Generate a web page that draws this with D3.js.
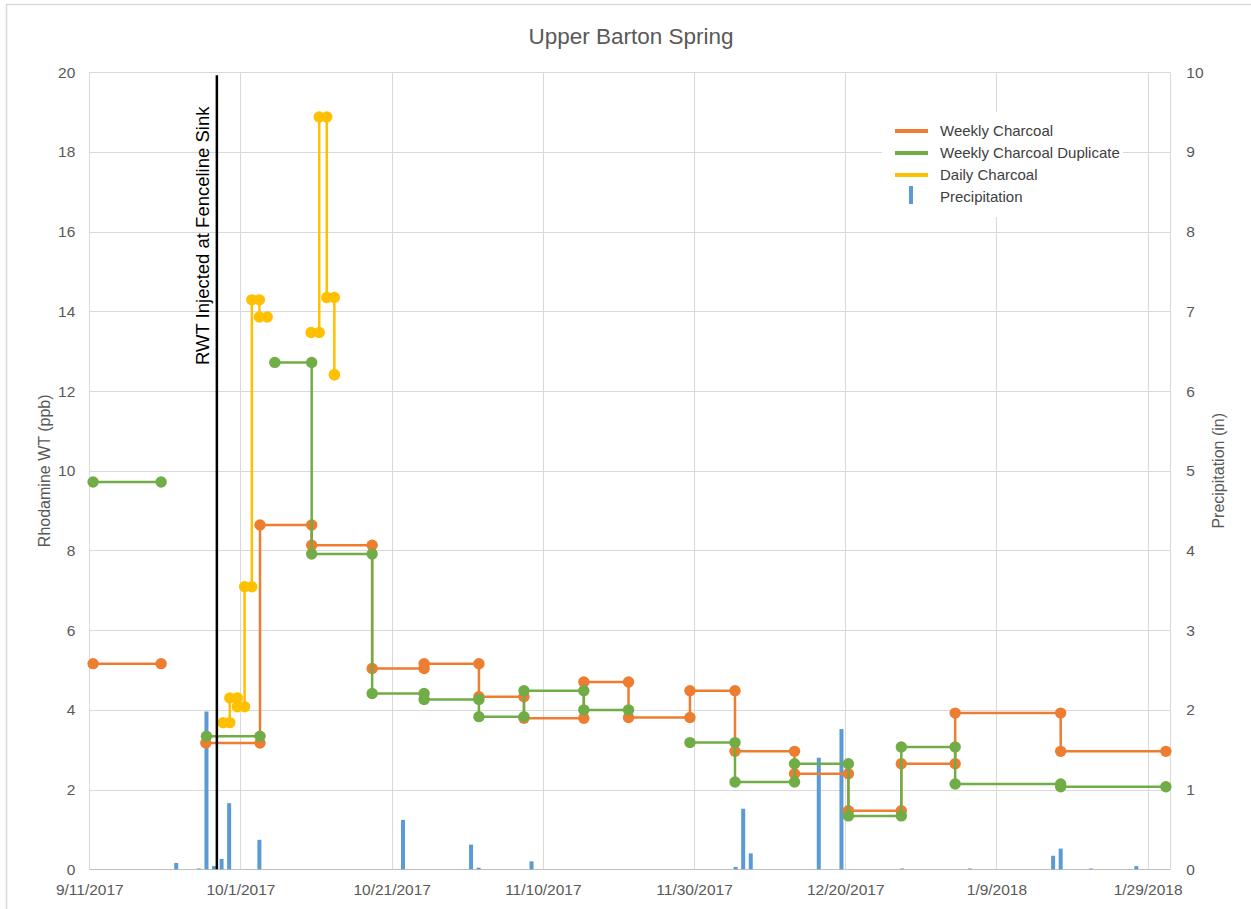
<!DOCTYPE html>
<html><head><meta charset="utf-8">
<script src="https://cdn.jsdelivr.net/npm/d3@7"></script>
<style>
body{margin:0;background:#fff}
svg{display:block}
text{font-family:"Liberation Sans",Arial,sans-serif}
</style>
</head><body>
<svg id="chart" width="1251" height="909"></svg>
<script>
// ---------------- DATA ----------------
const titleText = "Upper Barton Spring";
const leftTitle = "Rhodamine WT (ppb)";
const rightTitle = "Precipitation (in)";
const injectionLabel = "RWT Injected at Fenceline Sink";
const injectionDate = "2017-09-27 21:00";

const dateTickLabels = ["9/11/2017","10/1/2017","10/21/2017","11/10/2017","11/30/2017","12/20/2017","1/9/2018","1/29/2018"];
const leftTicks = [0,2,4,6,8,10,12,14,16,18,20];
const rightTicks = [0,1,2,3,4,5,6,7,8,9,10];
const xDomain = ["2017-09-11 00:00","2018-02-01 00:00"];

const weeklyStart = ["2017-09-11 12:00","2017-09-26 10:00","2017-10-03 14:00","2017-10-10 10:00","2017-10-18 10:00","2017-10-25 07:00","2017-11-01 13:00","2017-11-07 12:00","2017-11-15 10:00","2017-11-21 08:00","2017-11-29 11:00","2017-12-05 10:00","2017-12-13 07:00","2017-12-20 10:00","2017-12-27 10:00","2018-01-03 13:00","2018-01-17 12:00"];
const weeklyEnd   = ["2017-09-20 12:00","2017-10-03 14:00","2017-10-10 10:00","2017-10-18 10:00","2017-10-25 07:00","2017-11-01 13:00","2017-11-07 12:00","2017-11-15 10:00","2017-11-21 08:00","2017-11-29 11:00","2017-12-05 10:00","2017-12-13 07:00","2017-12-20 10:00","2017-12-27 10:00","2018-01-03 13:00","2018-01-17 12:00","2018-01-31 10:00"];
const weeklyValue = [5.16,3.17,8.64,8.13,5.04,5.16,4.33,3.79,4.70,3.81,4.48,2.96,2.40,1.47,2.65,3.92,2.96];

const dupStart = ["2017-09-11 12:00","2017-09-26 12:00","2017-10-05 13:00","2017-10-10 10:00","2017-10-18 10:00","2017-10-25 07:00","2017-11-01 13:00","2017-11-07 12:00","2017-11-15 10:00","2017-11-29 11:00","2017-12-05 10:00","2017-12-13 07:00","2017-12-20 10:00","2017-12-27 10:00","2018-01-03 13:00","2018-01-17 12:00"];
const dupEnd   = ["2017-09-20 12:00","2017-10-03 14:00","2017-10-10 10:00","2017-10-18 10:00","2017-10-25 07:00","2017-11-01 13:00","2017-11-07 12:00","2017-11-15 10:00","2017-11-21 08:00","2017-12-05 10:00","2017-12-13 07:00","2017-12-20 10:00","2017-12-27 10:00","2018-01-03 13:00","2018-01-17 12:00","2018-01-31 10:00"];
const dupValue = [9.72,3.34,12.72,7.91,4.41,4.26,3.83,4.48,4.00,3.18,2.19,2.65,1.34,3.07,2.14,2.07];

const dailyStart = ["2017-09-28 17:00","2017-09-29 14:00","2017-09-30 14:00","2017-10-01 13:00","2017-10-02 12:00","2017-10-03 12:00","2017-10-10 08:00","2017-10-11 10:00","2017-10-12 10:00","2017-10-13 10:00"];
const dailyEnd   = ["2017-09-29 14:00","2017-09-30 14:00","2017-10-01 13:00","2017-10-02 12:00","2017-10-03 12:00","2017-10-04 13:00","2017-10-11 10:00","2017-10-12 10:00","2017-10-13 10:00","2017-10-13 10:00"];
const dailyValue = [3.68,4.30,4.08,7.09,14.29,13.86,13.47,18.88,14.35,12.41];

const precipDates = ["2017-09-22 12:00","2017-09-25 12:00","2017-09-26 12:00","2017-09-27 12:00","2017-09-28 12:00","2017-09-29 12:00","2017-10-03 12:00","2017-10-22 12:00","2017-10-31 12:00","2017-11-01 12:00","2017-11-08 12:00","2017-12-05 12:00","2017-12-06 12:00","2017-12-07 12:00","2017-12-16 12:00","2017-12-19 12:00","2017-12-27 12:00","2018-01-05 12:00","2018-01-16 12:00","2018-01-17 12:00","2018-01-21 12:00","2018-01-27 12:00"];
const precipValues = [0.08,0.01,1.98,0.04,0.13,0.83,0.37,0.62,0.31,0.02,0.10,0.03,0.76,0.20,1.40,1.76,0.01,0.01,0.17,0.26,0.01,0.04];

const seriesNames = ["Weekly Charcoal","Weekly Charcoal Duplicate","Daily Charcoal","Precipitation"];
const seriesColors = ["#ED7D31","#70AD47","#FFC000","#5B9BD5"];

// ---------------- CHART ----------------
const parse = d3.timeParse("%Y-%m-%d %H:%M");
const tickParse = d3.timeParse("%m/%d/%Y");
const svg = d3.select("#chart");
const L = 89.3, R = 1170.3, T = 72.3, B = 869.3;

const x = d3.scaleTime().domain(xDomain.map(parse)).range([L, R]);
const yL = d3.scaleLinear().domain([0,20]).range([B, T]);
const yR = d3.scaleLinear().domain([0,10]).range([B, T]);

// outer chart border
svg.append("rect").attr("x",6.5).attr("y",4.5).attr("width",1260).attr("height",920)
  .attr("fill","none").attr("stroke","#d9d9d9").attr("stroke-width",1.5);

// gridlines
const grid = svg.append("g");
leftTicks.forEach(t => {
  grid.append("line").attr("x1",L).attr("x2",R).attr("y1",Math.round(yL(t))+0.5).attr("y2",Math.round(yL(t))+0.5)
    .attr("stroke", t===0 ? "#bfbfbf" : "#d9d9d9").attr("stroke-width",1);
});
const tickDates = dateTickLabels.map(tickParse);
tickDates.forEach(d => {
  grid.append("line").attr("x1",Math.round(x(d))+0.5).attr("x2",Math.round(x(d))+0.5).attr("y1",T).attr("y2",B)
    .attr("stroke","#d9d9d9").attr("stroke-width",1);
});
grid.append("line").attr("x1",Math.round(R)+0.5).attr("x2",Math.round(R)+0.5).attr("y1",T).attr("y2",B)
  .attr("stroke","#d9d9d9");

// axes (labels only, Excel style)
const axL = svg.append("g").attr("transform",`translate(${L-14},0)`)
  .call(d3.axisLeft(yL).tickValues(leftTicks).tickSize(0).tickPadding(0));
const axR = svg.append("g").attr("transform",`translate(${R+16},0)`)
  .call(d3.axisRight(yR).tickValues(rightTicks).tickSize(0).tickPadding(0));
const axB = svg.append("g").attr("transform",`translate(0,${B+9})`)
  .call(d3.axisBottom(x).tickValues(tickDates).tickFormat((d,i)=>dateTickLabels[i]).tickSize(0).tickPadding(6));
[axL,axR,axB].forEach(a => {
  a.select(".domain").remove();
  a.selectAll("text").attr("fill","#595959").style("font-size","15.5px")
   .style("font-family",'"Liberation Sans",Arial,sans-serif');
});

// precipitation bars (secondary axis)
svg.append("g").selectAll("rect").data(precipDates.map((d,i)=>({d:parse(d), v:precipValues[i]})))
  .join("rect")
  .attr("x", d => x(d.d) - 2).attr("width", 4)
  .attr("y", d => yR(d.v)).attr("height", d => yR(0) - yR(d.v))
  .attr("fill", seriesColors[3]);

// step series
function buildPoints(starts, ends, values){
  const pts = [];
  starts.forEach((s,i) => {
    if (i>0 && s !== ends[i-1]) pts.push(null);
    pts.push({d:parse(s), v:values[i]});
    pts.push({d:parse(ends[i]), v:values[i]});
  });
  return pts;
}
const line = d3.line().defined(p => p !== null).x(p => x(p.d)).y(p => yL(p.v));
function drawSeries(starts, ends, values, color){
  const pts = buildPoints(starts, ends, values);
  const g = svg.append("g");
  g.append("path").attr("d", line(pts)).attr("fill","none").attr("stroke",color)
    .attr("stroke-width",2.5).attr("stroke-linejoin","round");
  g.selectAll("circle").data(pts.filter(p=>p)).join("circle")
    .attr("cx", p => x(p.d)).attr("cy", p => yL(p.v)).attr("r",5.7).attr("fill",color);
}
drawSeries(weeklyStart, weeklyEnd, weeklyValue, seriesColors[0]);
drawSeries(dupStart, dupEnd, dupValue, seriesColors[1]);
drawSeries(dailyStart, dailyEnd, dailyValue, seriesColors[2]);

// injection line
const xi = x(parse(injectionDate));
svg.append("line").attr("x1",xi).attr("x2",xi).attr("y1",T+3).attr("y2",B)
  .attr("stroke","#000").attr("stroke-width",2.5);
svg.append("text").attr("transform",`translate(${xi-8},365) rotate(-90)`)
  .attr("fill","#000").style("font-size","18.5px").text(injectionLabel);

// title
svg.append("text").attr("x",631).attr("y",44).attr("text-anchor","middle")
  .attr("fill","#595959").style("font-size","22.5px").text(titleText);

// axis titles
svg.append("text").attr("transform",`translate(50,${(T+B)/2}) rotate(-90)`).attr("text-anchor","middle")
  .attr("fill","#595959").style("font-size","16px").text(leftTitle);
svg.append("text").attr("transform",`translate(1224,${(T+B)/2}) rotate(-90)`).attr("text-anchor","middle")
  .attr("fill","#595959").style("font-size","16px").text(rightTitle);

// legend
const lg = svg.append("g");
lg.append("rect").attr("x",882).attr("y",112).attr("width",241).attr("height",105).attr("fill","#fff");
const rowsY = [131,153,175,197];
seriesNames.forEach((n,i) => {
  if (i < 3) {
    lg.append("line").attr("x1",895).attr("x2",928).attr("y1",rowsY[i]).attr("y2",rowsY[i])
      .attr("stroke",seriesColors[i]).attr("stroke-width",4);
  } else {
    lg.append("rect").attr("x",909).attr("y",rowsY[i]-11).attr("width",4).attr("height",18)
      .attr("fill",seriesColors[i]);
  }
  lg.append("text").attr("x",940).attr("y",rowsY[i]+5).attr("fill","#404040")
    .style("font-size","15px").text(n);
});
</script>
</body></html>
